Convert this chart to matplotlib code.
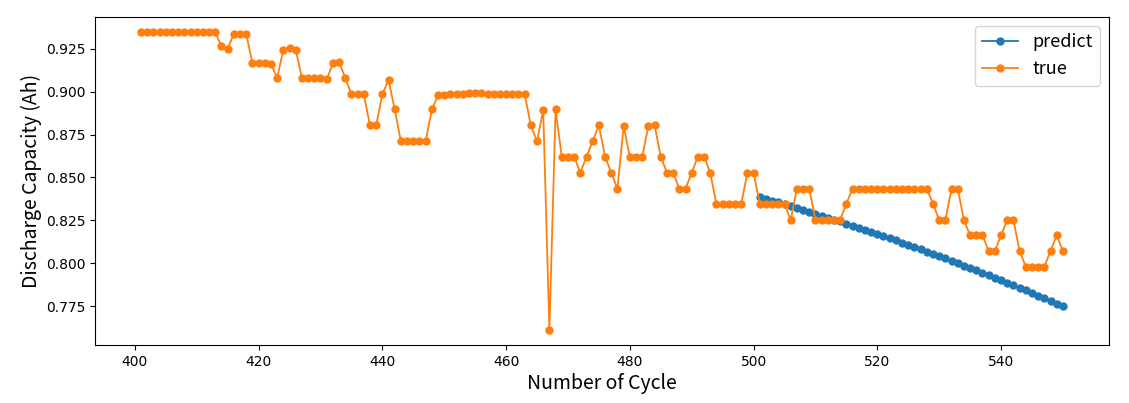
import matplotlib
matplotlib.use("Agg")
import matplotlib.pyplot as plt

true_cycles = list(range(401, 551))
true_values = [
    # 401-413
    0.9347, 0.9348, 0.9348, 0.9348, 0.9348, 0.9348, 0.9347, 0.9346, 0.9345, 0.9345, 0.9345, 0.9345, 0.9345,
    # 414-418
    0.9265, 0.9250, 0.9337, 0.9338, 0.9338,
    # 419-423
    0.9164, 0.9164, 0.9164, 0.9161, 0.9081,
    # 424-426
    0.9244, 0.9252, 0.9244,
    # 427-431
    0.9081, 0.9081, 0.9080, 0.9078, 0.9071,
    # 432-434
    0.9164, 0.9172, 0.9081,
    # 435-437
    0.8984, 0.8986, 0.8984,
    # 438-442
    0.8803, 0.8803, 0.8984, 0.9069, 0.8896,
    # 443-447
    0.8710, 0.8710, 0.8710, 0.8710, 0.8710,
    # 448-450
    0.8896, 0.8978, 0.8982,
    # 451-463
    0.8986, 0.8988, 0.8988, 0.8990, 0.8990, 0.8990, 0.8988, 0.8988, 0.8986, 0.8986, 0.8986, 0.8986, 0.8986,
    # 464-468
    0.8803, 0.8710, 0.8892, 0.7610, 0.8896,
    # 469-478
    0.8621, 0.8621, 0.8621, 0.8527, 0.8621, 0.8712, 0.8803, 0.8621, 0.8527, 0.8434,
    # 479-488
    0.8799, 0.8621, 0.8621, 0.8621, 0.8799, 0.8805, 0.8621, 0.8527, 0.8527, 0.8434,
    # 489-493
    0.8434, 0.8527, 0.8621, 0.8621, 0.8527,
    # 494-500
    0.8344, 0.8344, 0.8344, 0.8344, 0.8344, 0.8527, 0.8527,
    # 501-506
    0.8347, 0.8347, 0.8347, 0.8347, 0.8347, 0.8251,
    # 507-509
    0.8434, 0.8434, 0.8434,
    # 510-515
    0.8254, 0.8254, 0.8254, 0.8254, 0.8254, 0.8347,
    # 516-528
    0.8434, 0.8434, 0.8434, 0.8434, 0.8434, 0.8434, 0.8434, 0.8434, 0.8434, 0.8434, 0.8434, 0.8434, 0.8434,
    # 529-534
    0.8347, 0.8251, 0.8251, 0.8434, 0.8434, 0.8251,
    # 535-540
    0.8162, 0.8162, 0.8162, 0.8071, 0.8071, 0.8162,
    # 541-543
    0.8251, 0.8251, 0.8071,
    # 544-550
    0.7980, 0.7980, 0.7980, 0.7980, 0.8071, 0.8162, 0.8071,
]

pred_cycles = list(range(501, 551))
pred_values = [
    0.8385, 0.8375, 0.8364, 0.8354, 0.8343, 0.8333, 0.8322, 0.8311, 0.8300, 0.8289,
    0.8277, 0.8266, 0.8254, 0.8243, 0.8231, 0.8219, 0.8207, 0.8195, 0.8183, 0.8171,
    0.8158, 0.8146, 0.8133, 0.8120, 0.8107, 0.8094, 0.8081, 0.8068, 0.8055, 0.8041,
    0.8028, 0.8014, 0.8000, 0.7986, 0.7972, 0.7958, 0.7944, 0.7930, 0.7915, 0.7901,
    0.7886, 0.7871, 0.7856, 0.7841, 0.7826, 0.7811, 0.7795, 0.7780, 0.7764, 0.7748,
]

label_font = ["Noto Sans CJK JP", "DejaVu Sans"]

fig = plt.figure(figsize=(11.29, 4.03), dpi=100)
ax = fig.add_axes([0.0841, 0.1439, 0.8982, 0.8139])

ax.plot(pred_cycles, pred_values, marker="o", markersize=5, linewidth=1.3,
        color="#1f77b4", label="predict")
ax.plot(true_cycles, true_values, marker="o", markersize=5, linewidth=1.3,
        color="#ff7f0e", label="true")

ax.set_xlabel("Number of Cycle", fontsize=14, family=label_font, labelpad=3)
ax.set_ylabel("Discharge Capacity (Ah)", fontsize=14, family=label_font, labelpad=3)
ax.set_xticks([400, 420, 440, 460, 480, 500, 520, 540])
ax.set_yticks([0.775, 0.800, 0.825, 0.850, 0.875, 0.900, 0.925])
ax.tick_params(labelsize=10)

leg = ax.legend(loc="upper right", prop={"family": label_font, "size": 13})

fig.savefig("out.png", dpi=100)
